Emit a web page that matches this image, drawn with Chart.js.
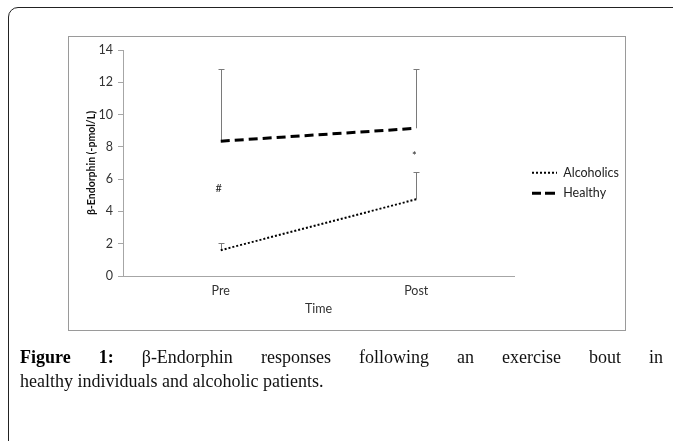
<!DOCTYPE html>
<html>
<head>
<meta charset="utf-8">
<script src="https://cdn.jsdelivr.net/npm/chart.js@4"></script>
<style>
body { margin: 0; width: 673px; height: 441px; overflow: hidden; background: #fff; position: relative; }
#frame { position: absolute; left: 8px; top: 7px; width: 720px; height: 520px; border: 1.5px solid #222; border-radius: 10px; }
#box { position: absolute; left: 68px; top: 36px; width: 558px; height: 295px; border: 1px solid #9a9a9a; box-sizing: border-box; }
#chart { position: absolute; left: 0; top: 0; }
#cap { position: absolute; left: 20px; top: 345px; width: 643px; font-family: "Liberation Serif", serif; font-size: 18px; line-height: 24px; color: #111; }
#cap .l1 { text-align: justify; text-align-last: justify; }
#cap b { color: #000; }
</style>
</head>
<body>
<div id="frame"></div>
<div id="box"></div>
<canvas id="chart" width="673" height="441"></canvas>
<div id="cap">
  <div class="l1"><b>Figure 1:</b> β-Endorphin responses following an exercise bout in</div>
  <div>healthy individuals and alcoholic patients.</div>
</div>
<script>
var categories = ['Pre', 'Post'];
var alcoholics = [1.6, 4.75];
var alcoholicsSD = [0.42, 1.67];   // only the upper bar is shown
var healthy = [8.35, 9.15];
var healthySD = [4.45, 3.65];
var markers = ['#', '*'];          // significance marks, one per time point
var markerValues = [5.45, 7.4];

Chart.defaults.font.family = 'Lato';

// upper error bars, drawn under the lines
var errorBars = {
    id: 'errorBars',
    beforeDatasetsDraw: function(chart) {
        var ctx = chart.ctx, xs = chart.scales.x, ys = chart.scales.y;
        ctx.save();
        ctx.strokeStyle = '#7a7a7a';
        ctx.lineWidth = 1;
        chart.data.datasets.forEach(function(ds) {
            ds.data.forEach(function(v, i) {
                var px = Math.round(xs.getPixelForValue(i)) + 0.5;
                var y0 = ys.getPixelForValue(v);
                var y1 = Math.round(ys.getPixelForValue(v + ds.sd[i])) + 0.5;
                ctx.beginPath();
                ctx.moveTo(px, y0); ctx.lineTo(px, y1);
                ctx.moveTo(px - 3, y1); ctx.lineTo(px + 3, y1);
                ctx.stroke();
            });
        });
        ctx.fillStyle = '#222';
        ctx.font = '11px Lato';
        ctx.textAlign = 'center';
        ctx.textBaseline = 'middle';
        markers.forEach(function(m, i) {
            ctx.fillText(m, xs.getPixelForValue(i) - 2, ys.getPixelForValue(markerValues[i]));
        });
        ctx.restore();
    }
};

// keep the legend column at a fixed width so the plot area lands where it should
var fixLegend = {
    id: 'fixLegend',
    beforeLayout: function(chart) {
        var lg = chart.legend;
        if (lg && !lg._fixed) {
            var f = lg.fit;
            lg.fit = function() { f.call(this); this.width = 149; };
            lg._fixed = true;
        }
    }
};

var chart = new Chart(document.getElementById('chart'), {
    type: 'line',
    data: {
        labels: categories,
        datasets: [{
            label: 'Alcoholics',
            data: alcoholics,
            sd: alcoholicsSD,
            borderColor: '#000',
            backgroundColor: '#000',
            borderWidth: 2,
            borderDash: [2, 2],
            pointRadius: 0,
            fill: false
        }, {
            label: 'Healthy',
            data: healthy,
            sd: healthySD,
            borderColor: '#000',
            backgroundColor: '#000',
            borderWidth: 3,
            borderDash: [9, 5],
            pointRadius: 0,
            fill: false
        }]
    },
    options: {
        responsive: false,
        animation: false,
        events: [],
        layout: { padding: { left: 69, top: 50, right: 0, bottom: 125 } },
        scales: {
            x: {
                offset: true,
                ticks: { color: '#333', font: { size: 12.5 }, padding: 7 },
                grid: { drawOnChartArea: false, drawTicks: false, color: '#a6a6a6' },
                border: { color: '#a6a6a6' },
                title: { display: true, text: 'Time', color: '#333', font: { size: 12.5 }, padding: { top: 0, bottom: 0 } },
                afterFit: function(s) { s.height = 40; }
            },
            y: {
                min: 0,
                max: 14,
                ticks: { stepSize: 2, color: '#333', font: { size: 12.5 }, padding: 5 },
                grid: { drawOnChartArea: false, tickLength: 5, color: '#a6a6a6' },
                border: { color: '#a6a6a6' },
                title: { display: true, text: 'β-Endorphin (-pmol/L)', color: '#111', font: { size: 10.5, weight: 'bold' }, padding: { top: 16, bottom: 0 } },
                afterFit: function(s) { s.width = 54; }
            },
            y2: {
                position: 'right',
                grid: { display: false, drawTicks: false },
                border: { display: false },
                ticks: { display: false },
                afterFit: function(s) { s.width = 10; }
            }
        },
        plugins: {
            legend: {
                position: 'right',
                align: 'center',
                labels: {
                    boxWidth: 25,
                    boxHeight: 0,
                    padding: 8,
                    color: '#222',
                    font: { size: 12.5 }
                }
            },
            tooltip: { enabled: false }
        }
    },
    plugins: [errorBars, fixLegend]
});
</script>
</body>
</html>
